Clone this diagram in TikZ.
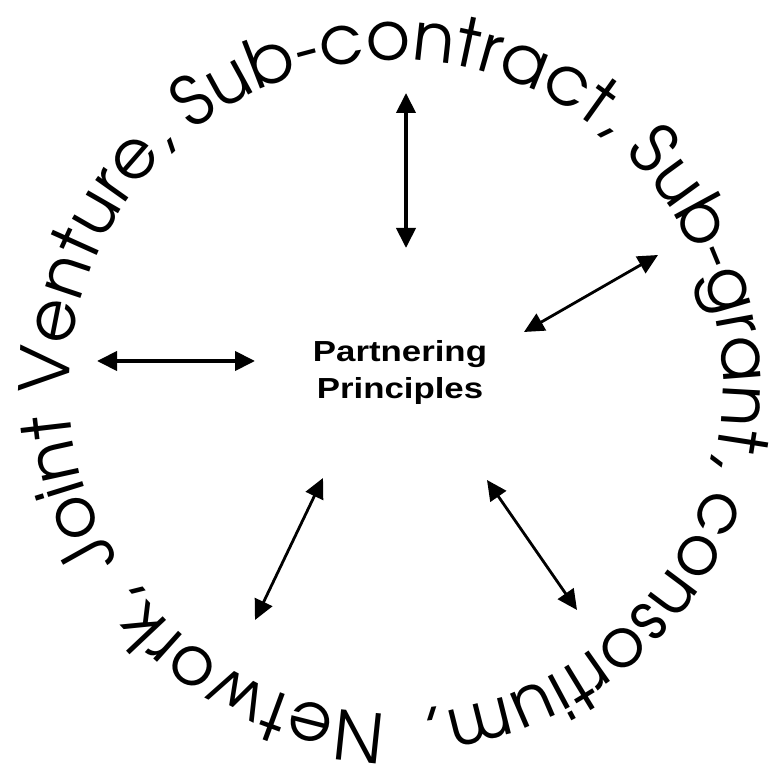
\documentclass[tikz,border=0pt]{standalone}
\usepackage{fontspec}
\usetikzlibrary{decorations.text,arrows.meta}
% geometric sans for the ring of partnership forms
\newfontfamily\ringfont{texgyreadventor-regular}[Extension=.otf]
% wide bold sans for the hub label
\newfontfamily\hubfont[FakeStretch=1.2]{Liberation Sans}
\begin{document}
\begin{tikzpicture}[x=1pt,y=1pt,
  tip/.style={Triangle[length=20pt,width=19pt]},
  link/.style={{Triangle[length=20pt,width=19pt]}-{Triangle[length=20pt,width=19pt]}, line width=4pt},
  thinlink/.style={link, line width=2.8pt},
  hub/.style={font=\hubfont\bfseries\fontsize{29}{37}\selectfont, align=center, inner sep=0pt}]
\useasboundingbox (0,0) rectangle (774,769);

% centre of the ring
\coordinate (c) at (396,382);

% ring of text, running clockwise
\path[decorate, decoration={text along path, text align=fit to path,
  text={|\ringfont\fontsize{68}{80}\selectfont|Joint Venture, Sub-contract, Sub-grant, consortium, {\ }Network,}}]
  (c) ++(212:327) arc[start angle=212, end angle=-143, radius=327];

% hub label
\node[hub] (hub) at (400,396) {Partnering\\Principles};

% arrow end points
\coordinate (topA) at (406,676);
\coordinate (topB) at (406,521);
\coordinate (leftA) at (97,408);
\coordinate (leftB) at (255,408);
\coordinate (urA) at (658,514);
\coordinate (urB) at (524,437);
\coordinate (lrA) at (487,289);
\coordinate (lrB) at (577,159);
\coordinate (llA) at (323,291);
\coordinate (llB) at (255,149);

% two-way links between the hub and the ring
\draw[link] (topA) -- (topB);
\draw[link] (leftA) -- (leftB);
\draw[thinlink] (urA) -- (urB);
\draw[thinlink] (lrA) -- (lrB);
\draw[thinlink] (llA) -- (llB);
\end{tikzpicture}
\end{document}
